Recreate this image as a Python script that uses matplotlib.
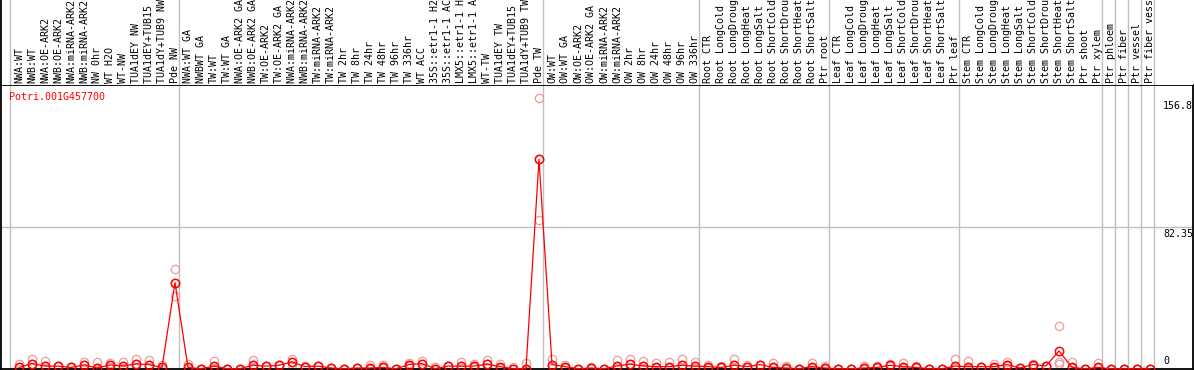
import numpy as np
import matplotlib
matplotlib.use("Agg")
import matplotlib.pyplot as plt
import matplotlib.transforms as mtransforms

plt.rcParams['font.family'] = ['DejaVu Sans Mono', 'DejaVu Sans']

# Data
gene = "Potri.001G457700"

samples = [
    "NWA:WT", "NWB:WT", "NWA:OE-ARK2", "NWB:OE-ARK2", "NWA:miRNA-ARK2", "NWB:miRNA-ARK2",
    "NW 0hr", "WT H2O", "WT-NW", "TUA1dEY NW", "TUA1dEY+TUB15 NW", "TUA1dY+TUB9 NW", "Pde NW",
    "NWA:WT GA", "NWBWT GA", "TW:WT", "TW:WT GA", "NWA:OE-ARK2 GA", "NWB:OE-ARK2 GA",
    "TW:OE-ARK2", "TW:OE-ARK2 GA", "NWA:miRNA-ARK2 GA", "NWB:miRNA-ARK2 GA", "TW:miRNA-ARK2",
    "TW:miRNA-ARK2", "TW 2hr", "TW 8hr", "TW 24hr", "TW 48hr", "TW 96hr", "TW 336hr", "WT ACC",
    "35S::etr1-1 H2O", "35S::etr1-1 ACC", "LMX5::etr1-1 H2O", "LMX5::etr1-1 ACC", "WT-TW",
    "TUA1dEY TW", "TUA1dEY+TUB15 TW", "TUA1dY+TUB9 TW", "Pde TW",
    "OW:WT", "OW:WT GA", "OW:OE-ARK2", "OW:OE-ARK2 GA", "OW:miRNA-ARK2", "OW:miRNA-ARK2",
    "OW 2hr", "OW 8hr", "OW 24hr", "OW 48hr", "OW 96hr", "OW 336hr",
    "Root CTR", "Root LongCold", "Root LongDrought", "Root LongHeat", "Root LongSalt",
    "Root ShortCold", "Root ShortDrought", "Root ShortHeat", "Root ShortSalt", "Ptr root",
    "Leaf CTR", "Leaf LongCold", "Leaf LongDrought", "Leaf LongHeat", "Leaf LongSalt",
    "Leaf ShortCold", "Leaf ShortDrought", "Leaf ShortHeat", "Leaf ShortSalt", "Ptr leaf",
    "Stem CTR", "Stem LongCold", "Stem LongDrought", "Stem LongHeat", "Stem LongSalt",
    "Stem ShortCold", "Stem ShortDrought", "Stem ShortHeat", "Stem ShortSalt", "Ptr shoot",
    "Ptr xylem", "Ptr phloem", "Ptr fiber", "Ptr vessel", "Ptr fiber vessel",
]
group_sizes = [13, 28, 12, 10, 10, 11, 1, 1, 1, 1]

mean_expr = [
    0.7, 3.0, 1.5, 1.5, 0.7, 2.2, 0.4, 2.2, 1.6, 2.8, 2.4, 0.7, 50.0,
    0.7, 0.0, 1.5, 0.0, 0.0, 2.0, 1.5, 2.0, 3.9, 1.2, 1.5, 0.4, 0.0, 0.4, 0.4, 0.7, 0.0,
    2.4, 3.0, 0.0, 1.5, 1.5, 1.5, 2.6, 1.2, 0.0, 0.0, 121.5,
    2.4, 1.2, 0.0, 0.4, 0.0, 1.6, 2.6, 1.6, 1.2, 1.2, 2.0, 1.5,
    1.2, 0.7, 2.0, 1.2, 2.4, 0.7, 0.4, 0.0, 1.2, 0.4,
    0.0, 0.0, 0.4, 0.7, 2.0, 1.2, 0.7, 0.0, 0.0, 1.5,
    1.2, 1.2, 1.2, 2.4, 0.4, 2.4, 1.6, 10.3, 0.7, 0.0, 0.7,
    0.0, 0.0, 0.0, 0.0,
]
rep_high = [
    2.6, 5.9, 4.3, 1.5, 0.7, 4.0, 3.9, 3.5, 3.9, 5.9, 4.9, 1.9, 57.8,
    2.6, 0.0, 4.3, 0.0, 0.0, 4.9, 1.5, 2.4, 5.4, 1.8, 1.5, 0.4, 0.0, 0.4, 2.0, 2.0, 0.0,
    3.5, 4.3, 0.8, 1.5, 3.9, 2.6, 4.9, 2.8, 0.8, 3.5, 156.9,
    5.4, 2.0, 0.0, 0.8, 0.0, 4.9, 5.9, 4.3, 3.5, 3.9, 5.4, 3.9,
    2.0, 1.3, 5.4, 2.0, 2.4, 3.5, 1.3, 0.0, 3.5, 1.3,
    0.0, 0.0, 1.3, 1.3, 2.8, 3.5, 1.5, 0.0, 0.0, 5.4,
    4.3, 1.2, 2.8, 3.9, 0.4, 2.8, 1.6, 24.5, 3.9, 0.0, 3.5,
    0.0, 0.0, 0.0, 0.0,
]
rep_low = [
    0.0, 0.6, 0.5, 1.5, 0.7, 0.3, 0.0, 1.0, 0.5, 0.4, 1.0, 0.0, 42.3,
    0.0, 0.0, 0.5, 0.0, 0.0, 1.0, 1.5, 2.0, 2.0, 0.8, 1.5, 0.4, 0.0, 0.4, 0.0, 0.2, 0.0,
    1.8, 0.5, 0.0, 1.5, 0.5, 1.0, 1.0, 0.5, 0.0, 0.0, 86.2,
    0.5, 0.6, 0.0, 0.2, 0.0, 0.2, 0.8, 0.5, 0.3, 0.2, 0.4, 0.5,
    0.6, 0.3, 0.2, 0.8, 2.0, 0.2, 0.0, 0.0, 0.3, 0.0,
    0.0, 0.0, 0.0, 0.2, 1.5, 0.3, 0.2, 0.0, 0.0, 0.3,
    0.3, 1.2, 0.6, 1.5, 0.4, 1.8, 1.6, 2.8, 0.2, 0.0, 0.2,
    0.0, 0.0, 0.0, 0.0,
]
rep_mid = [3.6 if s == "Stem ShortHeat" else m for s, m in zip(samples, mean_expr)]

ytick_vals = [0, 82.35, 156.8]
ytick_text = ["0", "82.35", "156.8"]

W, H = 1194, 370
fig = plt.figure(figsize=(W / 100, H / 100), dpi=100)
fig.patch.set_facecolor('white')

left = 1 / W
width = 1191.5 / W
top_px = 85
bot_px = 368.7

ax = fig.add_axes([left, (H - bot_px) / H, width, (bot_px - top_px) / H])
ax_lab = fig.add_axes([left, (H - top_px) / H, width, top_px / H], sharex=ax)

x = np.arange(len(samples))
ax.set_xlim(-18 / 13, (1192.5 - 19) / 13)
ax.set_ylim(0, 164.7)

# group separators
bounds = np.concatenate([[0], np.cumsum(group_sizes)]) - 0.69
for b in bounds:
    ax.axvline(b, color='#c0c0c0', lw=1.0, zorder=1)
    ax_lab.axvline(b, color='#c0c0c0', lw=1.0, zorder=1)
ax.axhline(82.35, color='#c0c0c0', lw=1.0, zorder=1)

# replicates
pink = '#f09a9a'
for reps in (rep_high, rep_low, rep_mid):
    ax.plot(x, reps, linestyle='none', marker='o', ms=6, mfc='none', mec=pink,
            mew=0.9, zorder=2, clip_on=False)

# mean line
ax.plot(x, mean_expr, color='#ff0000', lw=0.9, marker='o', ms=6, mfc='none',
        mec='#ff0000', mew=1.1, zorder=3, clip_on=False)

ax.text((9 - 1) / 1191.5, 1 - 12 / (bot_px - top_px), gene, color='#ff0000',
        fontsize=7.2, transform=ax.transAxes, ha='left', va='center')

# y labels drawn inside on the right
for v, t in zip(ytick_vals, ytick_text):
    if v == 0:
        tr = mtransforms.offset_copy(ax.get_yaxis_transform(), fig=fig, y=2.2, units='points')
        ax.text((1163 - 1) / 1191.5, v, t, fontsize=7.2, transform=tr, ha='left', va='bottom')
    else:
        tr = mtransforms.offset_copy(ax.get_yaxis_transform(), fig=fig, y=-1.5, units='points')
        ax.text((1163 - 1) / 1191.5, v, t, fontsize=7.2, transform=tr, ha='left', va='top')

ax.set_xticks([])
ax.set_yticks([])
for s in ax.spines.values():
    s.set_color('black')
    s.set_linewidth(1.3)

lab_tr = mtransforms.blended_transform_factory(ax_lab.transData, ax_lab.transAxes)
for xi, name in zip(x, samples):
    ax_lab.text(xi, 2 / top_px, name, rotation=90, fontsize=7.2, ha='center', va='bottom',
                transform=lab_tr, clip_on=True)
ax_lab.set_ylim(0, 1)
ax_lab.tick_params(left=False, bottom=False, labelleft=False, labelbottom=False)
for side in ('top', 'right', 'bottom'):
    ax_lab.spines[side].set_visible(False)
ax_lab.spines['left'].set_linewidth(1.3)

fig.savefig('out.png', dpi=100)
